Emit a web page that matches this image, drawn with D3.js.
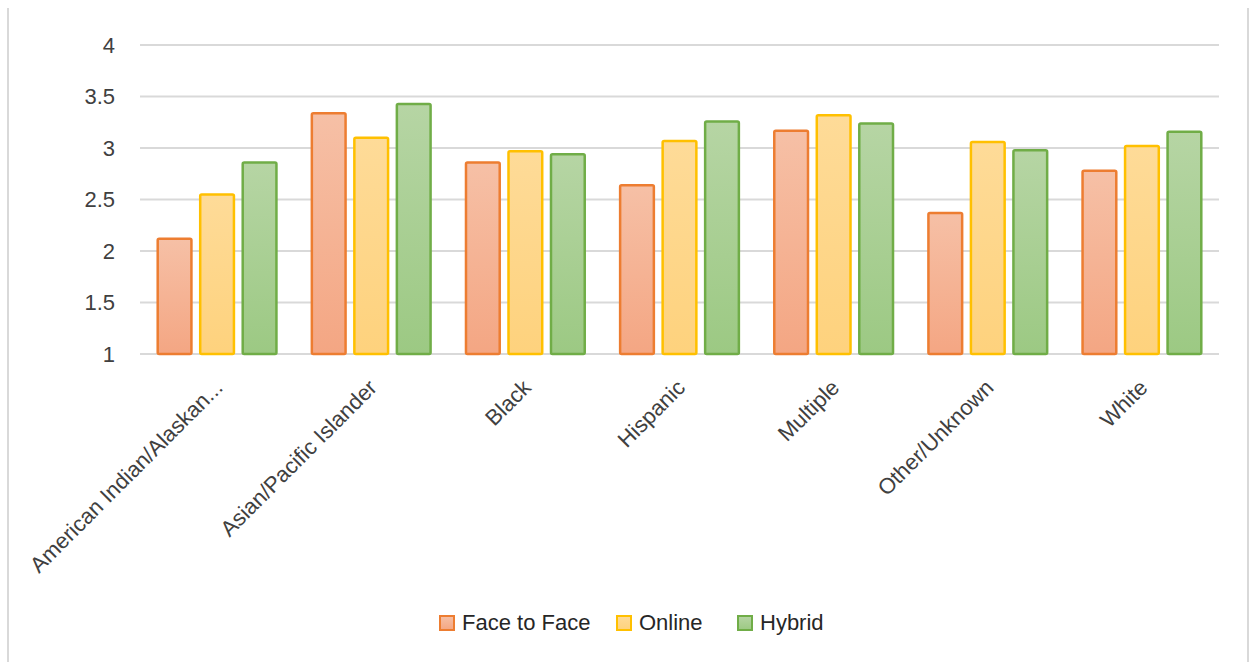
<!DOCTYPE html>
<html>
<head>
<meta charset="utf-8">
<script src="https://cdn.jsdelivr.net/npm/d3@7"></script>
<style>
  html, body { margin: 0; padding: 0; background: #fff; }
  svg { display: block; font-family: "Liberation Sans", Arial, sans-serif; }
</style>
</head>
<body>
<svg id="chart" width="1250" height="662"></svg>
<script>
const categories = ["American Indian/Alaskan...", "Asian/Pacific Islander", "Black", "Hispanic", "Multiple", "Other/Unknown", "White"];
const seriesNames = ["Face to Face", "Online", "Hybrid"];
const faceToFace = [2.13, 3.35, 2.87, 2.65, 3.18, 2.38, 2.79];
const online     = [2.56, 3.11, 2.98, 3.08, 3.33, 3.07, 3.03];
const hybrid     = [2.87, 3.44, 2.95, 3.27, 3.25, 2.99, 3.17];
const yTicks = [1, 1.5, 2, 2.5, 3, 3.5, 4];
const yTickLabels = ["1", "1.5", "2", "2.5", "3", "3.5", "4"];

const seriesValues = [faceToFace, online, hybrid];
const strokes = ["#ED7D31", "#FFC000", "#70AD47"];
const fillTop = ["#F6C0A6", "#FEDB98", "#B6D5A4"];
const fillBot = ["#F4A683", "#FED27D", "#9CC983"];

const svg = d3.select("#chart");
const defs = svg.append("defs");
seriesNames.forEach((s, i) => {
  const g = defs.append("linearGradient").attr("id", "grad" + i)
    .attr("x1", 0).attr("y1", 0).attr("x2", 0).attr("y2", 1);
  g.append("stop").attr("offset", "0%").attr("stop-color", fillTop[i]);
  g.append("stop").attr("offset", "100%").attr("stop-color", fillBot[i]);
});

// outer frame (left/right edges visible)
svg.append("line").attr("x1", 8).attr("x2", 8).attr("y1", 8).attr("y2", 662)
  .attr("stroke", "#d9d9d9").attr("stroke-width", 2);
svg.append("line").attr("x1", 1248).attr("x2", 1248).attr("y1", 8).attr("y2", 662)
  .attr("stroke", "#d9d9d9").attr("stroke-width", 2);

const x0 = d3.scaleBand().domain(categories).range([140, 1219]).padding(0);
const x1 = d3.scaleBand().domain(seriesNames).range([16.5, x0.bandwidth() - 16.5]).paddingInner(0.15).paddingOuter(0);
const y = d3.scaleLinear().domain([1, 4]).range([354, 45]);

// gridlines
const grid = svg.append("g");
grid.selectAll("line").data(yTicks).join("line")
  .attr("x1", 140).attr("x2", 1219)
  .attr("y1", d => y(d)).attr("y2", d => y(d))
  .attr("stroke", "#d9d9d9").attr("stroke-width", 2);

// y axis labels
const yAxis = d3.axisLeft(y).tickValues(yTicks).tickSize(0).tickPadding(0)
  .tickFormat((d, i) => yTickLabels[i]);
const yg = svg.append("g").attr("transform", "translate(115,0)").call(yAxis);
yg.select(".domain").remove();
yg.selectAll("text").attr("font-size", 22).attr("fill", "#404040")
  .attr("font-family", "Liberation Sans, Arial, sans-serif");

// bars
seriesNames.forEach((s, si) => {
  svg.append("g").selectAll("rect").data(categories).join("rect")
    .attr("x", c => x0(c) + x1(s) + 1.2)
    .attr("width", x1.bandwidth() - 2.4)
    .attr("y", (c, ci) => y(seriesValues[si][ci]) + 1.2)
    .attr("height", (c, ci) => y(1) - y(seriesValues[si][ci]) - 1.2)
    .attr("rx", 1.5)
    .attr("fill", "url(#grad" + si + ")")
    .attr("stroke", strokes[si]).attr("stroke-width", 2.5);
});

// x axis labels
const xAxis = d3.axisBottom(x0).tickSize(0).tickPadding(0);
const xg = svg.append("g").attr("transform", "translate(0,354)").call(xAxis);
xg.select(".domain").remove();
xg.selectAll("text")
  .attr("font-size", 22).attr("fill", "#404040")
  .attr("font-family", "Liberation Sans, Arial, sans-serif")
  .attr("text-anchor", "end")
  .attr("dy", 0).attr("y", 0)
  .attr("transform", "translate(7,35) rotate(-45)");

// legend
const legendX = [439, 616, 737];
const lg = svg.append("g");
seriesNames.forEach((s, i) => {
  lg.append("rect").attr("x", legendX[i] + 1).attr("y", 616).attr("width", 14).attr("height", 14)
    .attr("fill", "url(#grad" + i + ")").attr("stroke", strokes[i]).attr("stroke-width", 2);
  lg.append("text").attr("x", legendX[i] + 23).attr("y", 630)
    .attr("font-size", 22).attr("fill", "#262626").text(s);
});
</script>
</body>
</html>
